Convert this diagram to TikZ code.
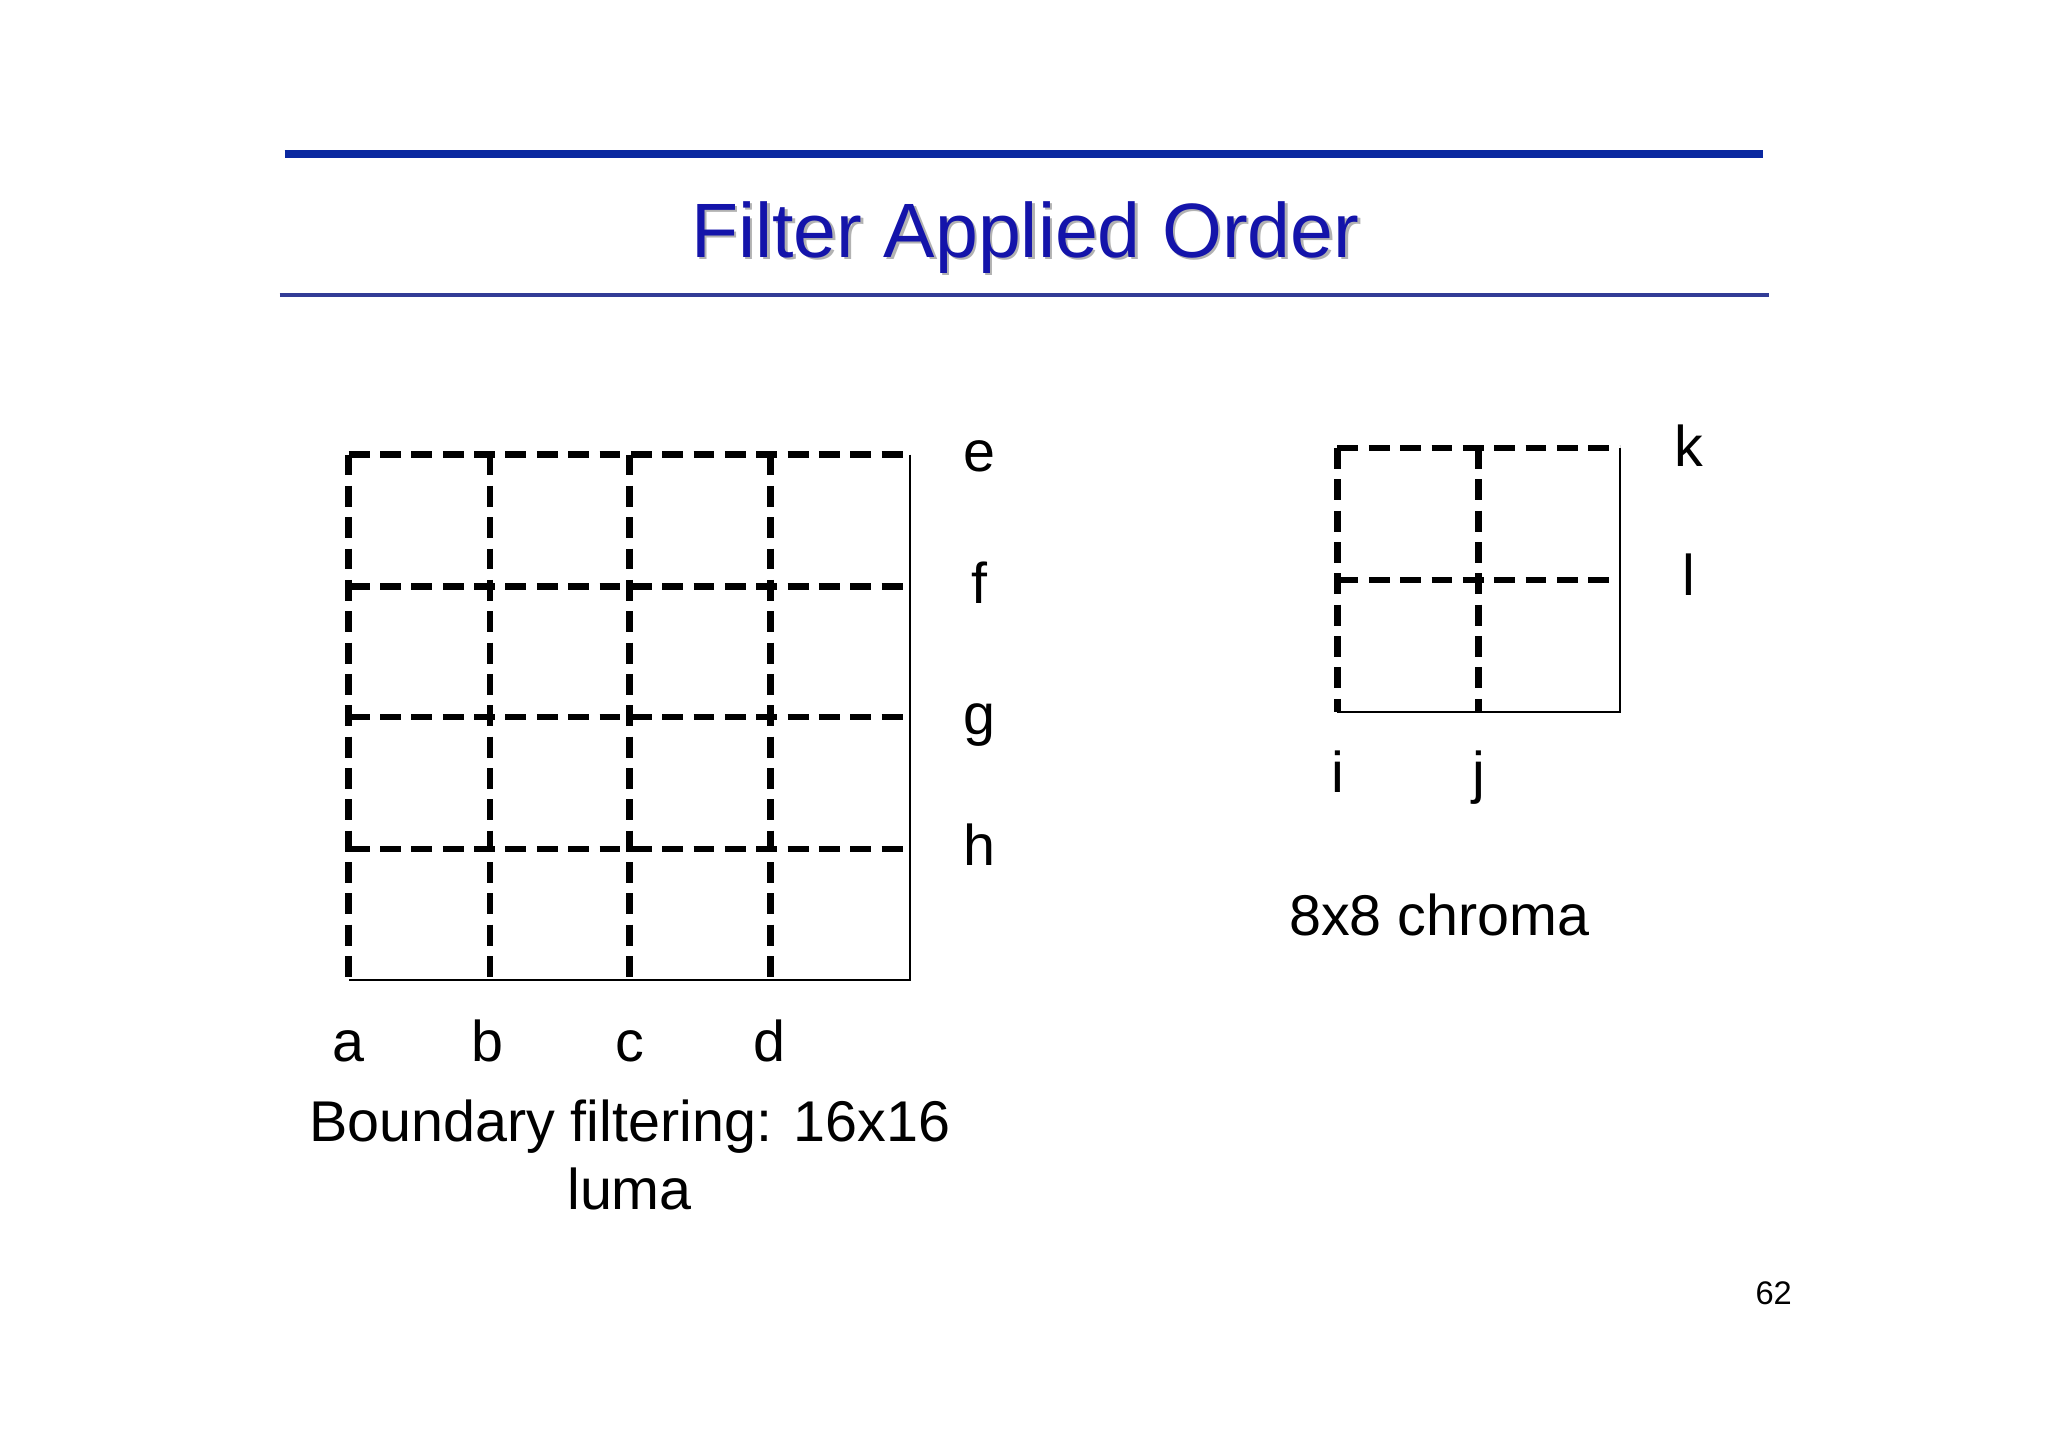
\documentclass[tikz,border=0pt]{standalone}
\usepackage{fontspec}
\setmainfont{Liberation Sans}
\begin{document}
\begin{tikzpicture}[x=1pt,y=-1pt,
  dl/.style={line width=5pt,dash pattern=on 16pt off 8pt},
  sl/.style={line width=1.5pt},
  lbl/.style={font=\fontsize{44}{52}\selectfont,anchor=base,inner sep=0pt}]
\useasboundingbox (0,0) rectangle (1568,1108);
\fill[white] (0,0) rectangle (1568,1108);
\definecolor{tb}{RGB}{10,40,160}
\definecolor{lb}{RGB}{50,60,150}
\definecolor{tt}{RGB}{20,20,170}
\draw[tb,line width=6pt] (218,118) -- (1350,118);
\draw[lb,line width=3pt] (214,226) -- (1354,226);
\node[text=gray!60,font=\fontsize{59}{64}\selectfont,anchor=base,inner sep=0pt] at (787,199) {Filter Applied Order};
\node[text=tt,font=\fontsize{59}{64}\selectfont,anchor=base,inner sep=0pt] (title) at (785,197) {Filter Applied Order};
% luma
\draw[sl] (697,348) -- (697,750) -- (267,750);
\foreach \x in {267,375,482,590} \draw[dl] (\x,348) -- (\x,750);
\foreach \y in {348,449,549,650} \draw[dl] (267,\y) -- (697,\y);
\foreach \t/\y in {e/361,f/462,g/562,h/663} \node[lbl] (\t) at (750,\y) {\t};
\foreach \t/\x in {a/267,b/373,c/482,d/589} \node[lbl] (\t) at (\x,813) {\t};
\node[lbl] (cap1) at (482,874) {Boundary filtering: 16x16};
\node[lbl] (cap1b) at (482,926) {luma};
% chroma
\draw[sl] (1240,343) -- (1240,545) -- (1024,545);
\foreach \x in {1024,1132} \draw[dl] (\x,343) -- (\x,545);
\foreach \y in {343,444} \draw[dl] (1024,\y) -- (1240,\y);
\node[lbl] (k) at (1293,357) {k};
\node[lbl] (l) at (1293,456) {l};
\node[lbl] (i) at (1024,607) {i};
\node[lbl] (j) at (1132,607) {j};
\node[lbl] (cap2) at (1102,716) {8x8 chroma};
\node[font=\fontsize{25}{28}\selectfont,anchor=base,inner sep=0pt] (pg) at (1358,999) {62};
\end{tikzpicture}
\end{document}
